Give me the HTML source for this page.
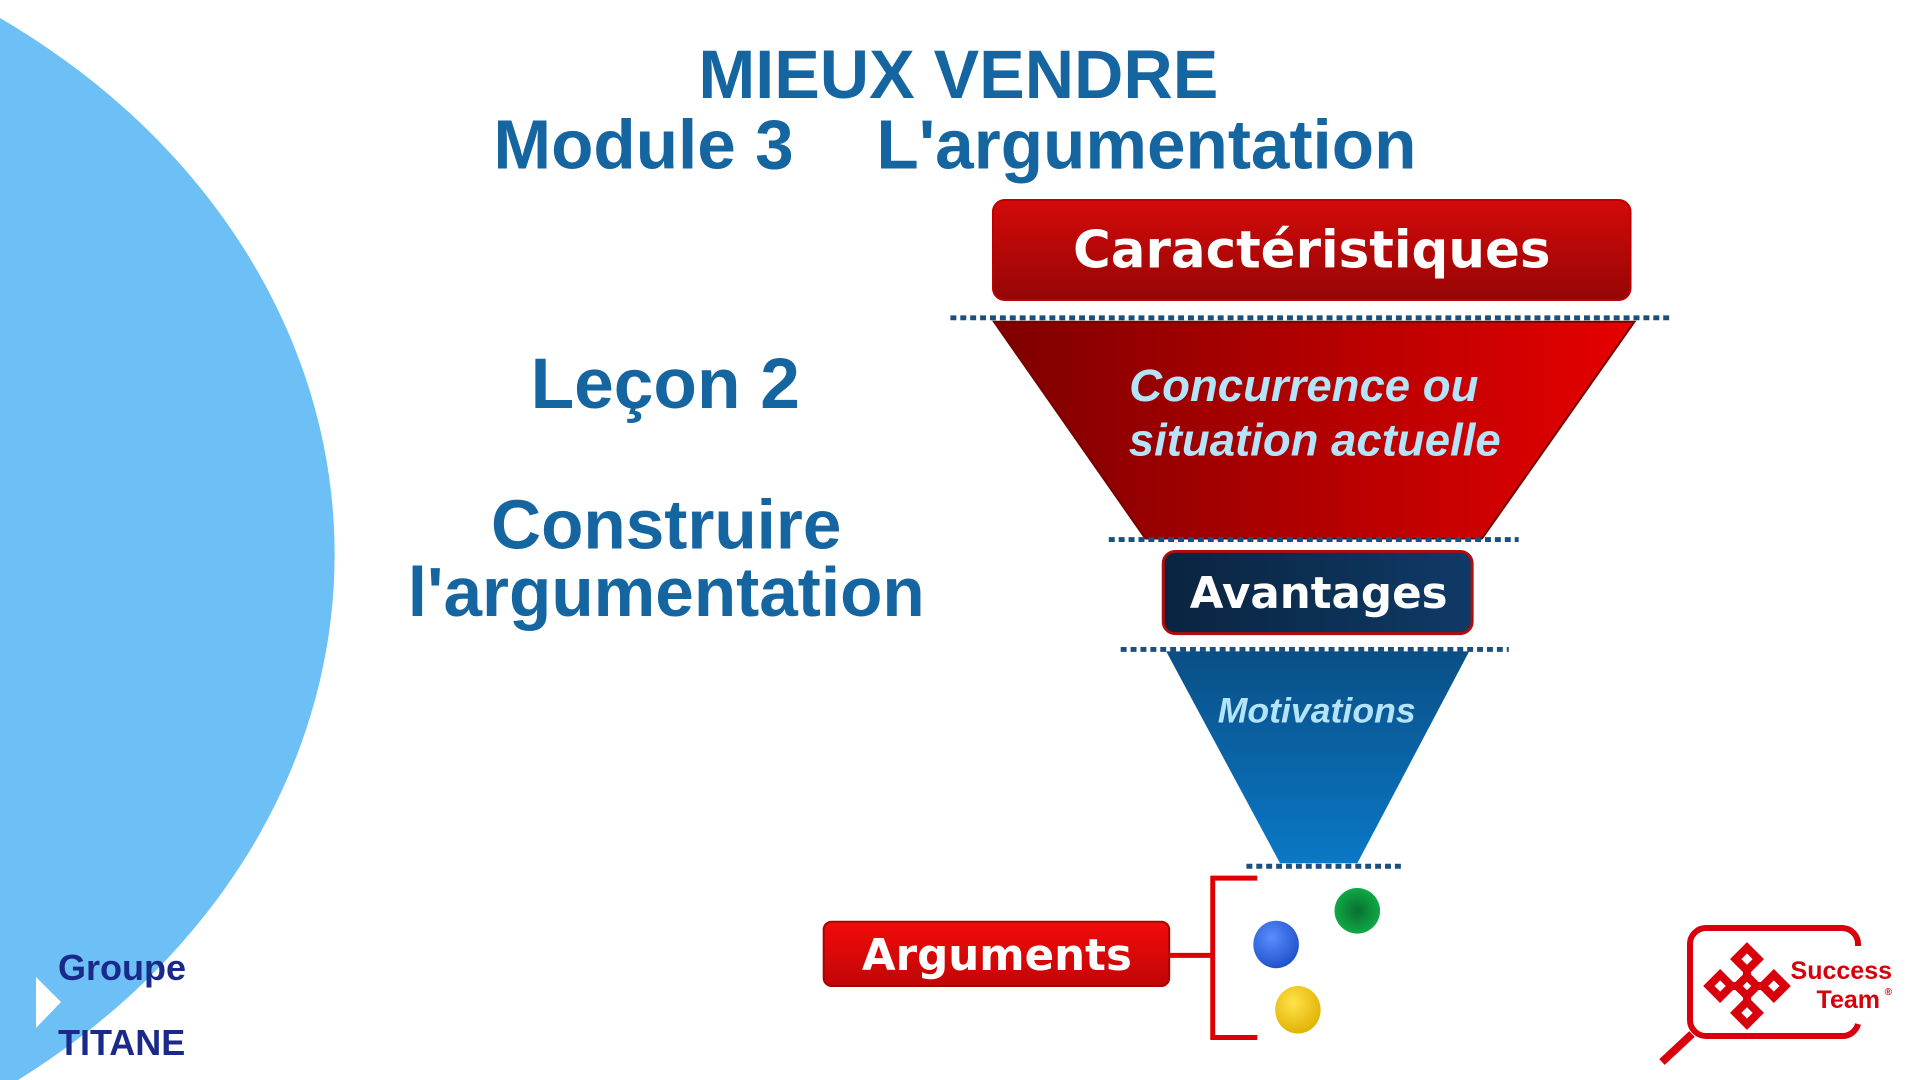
<!DOCTYPE html>
<html><head><meta charset="utf-8"><style>
html,body{margin:0;padding:0;background:#fff;width:1920px;height:1080px;overflow:hidden;}
body{position:relative;font-family:"Liberation Sans",Arial,sans-serif;}
svg{position:absolute;left:0;top:0;display:block;}
</style></head><body>
<svg width="1920" height="1080" viewBox="0 0 1920 1080" xmlns="http://www.w3.org/2000/svg">
<defs>
<linearGradient id="rbox" x1="0" y1="0" x2="0" y2="1"><stop offset="0" stop-color="#d40a0a"/><stop offset="1" stop-color="#960505"/></linearGradient>
<linearGradient id="rfun" x1="0" y1="0" x2="1" y2="0"><stop offset="0" stop-color="#7e0000"/><stop offset="1" stop-color="#e60000"/></linearGradient>
<linearGradient id="bfun" x1="0" y1="0" x2="0" y2="1"><stop offset="0" stop-color="#0a4f86"/><stop offset="1" stop-color="#0a78c6"/></linearGradient>
<linearGradient id="nav" x1="0" y1="0" x2="1" y2="0"><stop offset="0" stop-color="#0a2440"/><stop offset="1" stop-color="#0f3a66"/></linearGradient>
<linearGradient id="abox" x1="0" y1="0" x2="0" y2="1"><stop offset="0" stop-color="#f40a0a"/><stop offset="1" stop-color="#c00606"/></linearGradient>
<radialGradient id="gb" cx=".4" cy=".35" r=".7"><stop offset="0" stop-color="#5b8dff"/><stop offset="1" stop-color="#1d4fc8"/></radialGradient>
<radialGradient id="gg" cx=".5" cy=".5" r=".6"><stop offset="0" stop-color="#0a6f30"/><stop offset="1" stop-color="#10b44a"/></radialGradient>
<radialGradient id="gy" cx=".4" cy=".35" r=".7"><stop offset="0" stop-color="#ffe24a"/><stop offset="1" stop-color="#e0b000"/></radialGradient>
</defs>
<g transform="scale(0.99)">
<ellipse cx="-450" cy="560" rx="788" ry="660" fill="#6cc0f5"/>

<g font-weight="bold" fill="#1565a0" text-anchor="middle">
<text x="968" y="99" font-size="69">MIEUX VENDRE</text>
<text x="650" y="170" font-size="70">Module 3</text>
<text x="1158" y="170" font-size="70">L'argumentation</text>
<text x="672" y="412" font-size="72">Leçon 2</text>
<text x="673" y="554" font-size="70">Construire</text>
<text x="673" y="622" font-size="70">l'argumentation</text>
</g>

<rect x="1003" y="202" width="644" height="101" rx="12" fill="url(#rbox)" stroke="#b00" stroke-width="2"/>
<text x="1325" y="270" font-family="DejaVu Sans" font-size="52" font-weight="bold" fill="#fff" text-anchor="middle">Caractéristiques</text>

<polygon points="1004,325 1651,325 1497,544 1157,544" fill="url(#rfun)" stroke="#700" stroke-width="2"/>
<g font-size="46" font-style="italic" font-weight="bold" fill="#b4e4fa" text-anchor="middle">
<text x="1317" y="405">Concurrence ou</text>
<text x="1328" y="460">situation actuelle</text>
</g>

<rect x="1175" y="557" width="312" height="83" rx="12" fill="url(#nav)" stroke="#b00c0c" stroke-width="3"/>
<text x="1332" y="614" font-family="DejaVu Sans" font-size="44" font-weight="bold" fill="#fff" text-anchor="middle">Avantages</text>

<polygon points="1178,658 1484,658 1371,872 1293,872" fill="url(#bfun)"/>
<text x="1330" y="730" font-size="36" font-style="italic" font-weight="bold" fill="#b4e4fa" text-anchor="middle">Motivations</text>

<g stroke="#1a4f80" stroke-width="5" stroke-dasharray="6,4">
<line x1="960" y1="321" x2="1690" y2="321"/>
<line x1="1120" y1="545" x2="1534" y2="545"/>
<line x1="1132" y1="656" x2="1524" y2="656"/>
<line x1="1259" y1="875" x2="1416" y2="875"/>
</g>

<rect x="832" y="931" width="349" height="65" rx="8" fill="url(#abox)" stroke="#a00" stroke-width="2"/>
<text x="1007" y="980" font-family="DejaVu Sans" font-size="44" font-weight="bold" fill="#fff" text-anchor="middle">Arguments</text>
<g stroke="#d00" stroke-width="5" fill="none">
<line x1="1181" y1="965" x2="1225" y2="965"/>
<polyline points="1270,887 1225,887 1225,1048 1270,1048"/>
</g>
<ellipse cx="1289" cy="954" rx="23" ry="24" fill="url(#gb)"/>
<ellipse cx="1371" cy="920" rx="23" ry="23" fill="url(#gg)"/>
<ellipse cx="1311" cy="1020" rx="23" ry="24" fill="url(#gy)"/>
</g>

<polygon points="36,977 61,1002 36,1028" fill="#fff"/>
<text x="58" y="980" font-size="36" font-weight="bold" fill="#1a2a8a">Groupe</text>
<text x="58" y="1055" font-size="36" font-weight="bold" fill="#1a2a8a">TITANE</text>

<g fill="none" stroke="#d8000c" stroke-width="6">
<path d="M1858,946 V944 a16,16 0 0 0 -16,-16 H1706 a16,16 0 0 0 -16,16 V1020 a16,16 0 0 0 16,16 H1842 a16,16 0 0 0 16,-12"/>
</g>
<line x1="1692" y1="1034" x2="1662" y2="1062" stroke="#d8000c" stroke-width="8"/>
<g transform="translate(1747,986) rotate(45)" fill="none" stroke="#d8000c" stroke-width="8">
<rect x="-27" y="-27" width="16" height="16"/>
<rect x="11" y="11" width="16" height="16"/>
<rect x="11" y="-27" width="16" height="16"/>
<rect x="-27" y="11" width="16" height="16"/>
<rect x="-7" y="-7" width="14" height="14"/>
<line x1="-11" y1="-11" x2="-7" y2="-7"/>
<line x1="11" y1="11" x2="7" y2="7"/>
<line x1="11" y1="-11" x2="7" y2="-7"/>
<line x1="-11" y1="11" x2="-7" y2="7"/>
</g>
<g fill="#d8000c" font-weight="bold">
<text x="1892" y="979" font-size="25" text-anchor="end">Success</text>
<text x="1880" y="1008" font-size="25" text-anchor="end">Team</text>
<text x="1892" y="995" font-size="10" text-anchor="end">®</text>
</g>
</svg>
</body></html>
